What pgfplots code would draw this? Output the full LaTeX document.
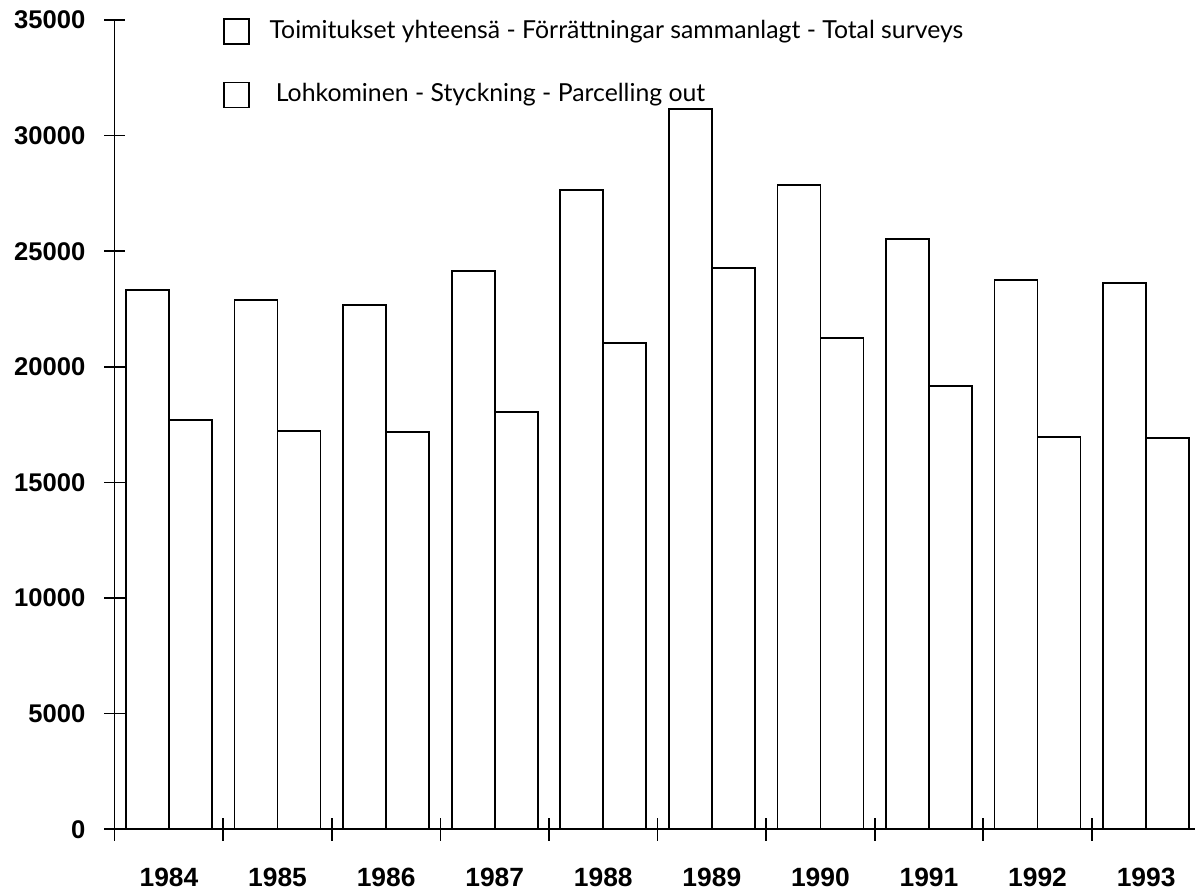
\documentclass[border=0pt]{standalone}
\usepackage{fontspec}
\setmainfont{Liberation Sans}
\newfontfamily\legendfont{Lato}
\usepackage{pgfplots}
\pgfplotsset{compat=1.18}
\begin{document}
\begin{tikzpicture}
\useasboundingbox (-57.35pt,-32.35pt) rectangle (540.15pt,414.65pt);
\begin{axis}[
  at={(0,0)}, anchor=south west,
  scale only axis, width=540.15pt, height=404.65pt,
  xmin=-0.5, xmax=9.45, ymin=0, ymax=35000,
  axis x line*=bottom, axis y line*=left,
  axis line style={line width=0.8pt, -},
  ybar, bar width=0.396,
  xtick={0,...,9},
  xticklabels={1984,1985,1986,1987,1988,1989,1990,1991,1992,1993},
  major tick length=10.5pt, tick align=center,
  xtick style={draw=none},
  extra x ticks={-0.5,0.5,1.5,2.5,3.5,4.5,5.5,6.5,7.5,8.5},
  extra x tick labels={},
  extra x tick style={major tick length=11.5pt, tick align=center, xtick style={draw=black, line width=0.8pt}},
  ytick={0,5000,...,35000},
  scaled y ticks=false,
  /pgf/number format/set thousands separator={},
  /pgf/number format/fixed,
  /pgf/number format/assume math mode=true,
  ytick style={line width=0.8pt, black},
  yticklabel style={font=\bfseries\fontsize{12.8}{14}\selectfont, inner sep=0pt, anchor=east, xshift=-9.2pt},
  xticklabel style={font=\bfseries\fontsize{13.2}{15}\selectfont, inner sep=0pt, anchor=north, yshift=-13.8pt},
  legend style={at={(rel axis cs:0.1,1.0025)}, anchor=north west, draw=none, fill=none,
    inner sep=0pt, row sep=18.5pt, font=\legendfont\fontsize{12.4}{14}\selectfont,
    nodes={inner sep=0pt, anchor=base west}},
  legend cell align=left,
  legend image code/.code={\draw[black, line width=0.7pt, fill=white] (0pt,-3pt) rectangle (12.5pt,9.5pt);},
  /tikz/every odd column/.append style={column sep=10pt},
]
\addplot[draw=black, fill=white, line width=0.9pt, bar shift=-0.198] coordinates {
 (0,23313) (1,22894) (2,22677) (3,24135) (4,27651) (5,31168) (6,27855) (7,25532) (8,23759) (9,23642)};
\addplot[draw=black, fill=white, line width=0.9pt, bar shift=0.198] coordinates {
 (0,17716) (1,17240) (2,17197) (3,18049) (4,21034) (5,24278) (6,21263) (7,19174) (8,16955) (9,16912)};
\legend{Toimitukset yhteensä - Förrättningar sammanlagt - Total surveys,{\ Lohkominen - Styckning - Parcelling out}}
\draw[line width=0.8pt] (rel axis cs:0,0) -- ++(-5.25pt,0);
\end{axis}
\end{tikzpicture}
\end{document}
